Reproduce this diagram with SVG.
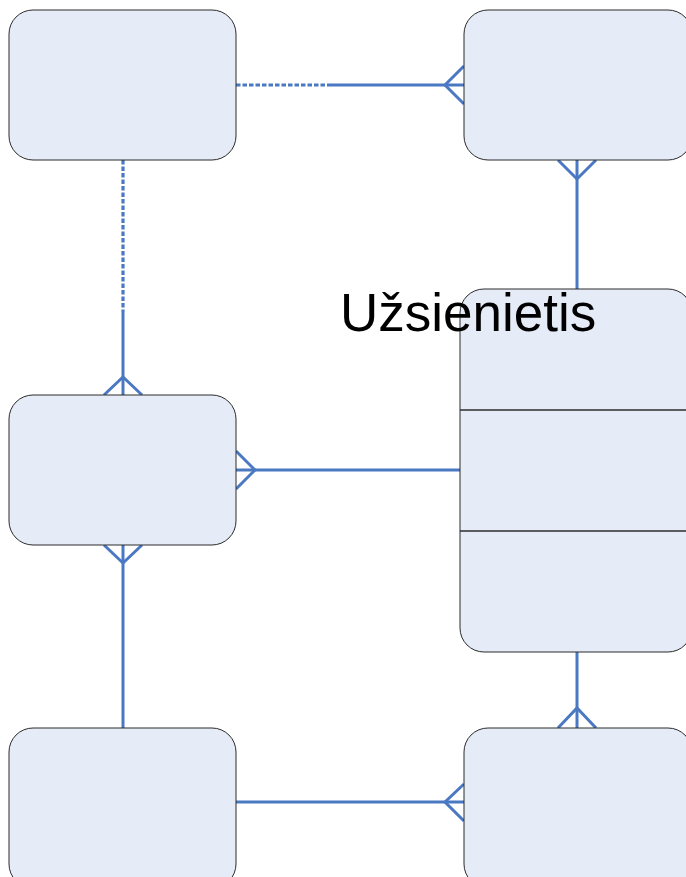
<svg xmlns="http://www.w3.org/2000/svg" width="686" height="877" viewBox="0 0 686 877">
  <style>
    .box { fill: #E6ECF7; stroke: #2b2b2b; stroke-width: 1; }
    .div { stroke: #2e2e2e; stroke-width: 1.3; fill: none; }
    .rel { stroke: #4A78C2; stroke-width: 3; fill: none; }
    .opt { stroke: #4A78C2; stroke-width: 3.2; fill: none; stroke-dasharray: 4.5 2; }
    .title { font-family: "Liberation Sans", Arial, sans-serif; font-size: 53px; fill: #000; }
  </style>
  <rect width="686" height="877" fill="#fff"/>

  <g id="connectors">
    <!-- top-left to top-right -->
    <line class="opt" x1="236" y1="85" x2="330" y2="85"/>
    <line class="rel" x1="330" y1="85" x2="464" y2="85"/>
    <polyline class="rel" points="464,66 445,85 464,104"/>
    <!-- top-left to middle-left -->
    <line class="opt" x1="123" y1="160" x2="123" y2="312"/>
    <line class="rel" x1="123" y1="312" x2="123" y2="395"/>
    <polyline class="rel" points="104,395 123,377 142,395"/>
    <!-- middle-left to Užsienietis -->
    <line class="rel" x1="236" y1="470" x2="460" y2="470"/>
    <polyline class="rel" points="236,451 255,470 236,489"/>
    <!-- top-right to Užsienietis -->
    <line class="rel" x1="577" y1="160" x2="577" y2="289"/>
    <polyline class="rel" points="558,160 577,179 596,160"/>
    <!-- middle-left to bottom-left -->
    <line class="rel" x1="123" y1="545" x2="123" y2="728"/>
    <polyline class="rel" points="104,545 123,563 142,545"/>
    <!-- bottom-left to bottom-right -->
    <line class="rel" x1="236" y1="802" x2="464" y2="802"/>
    <polyline class="rel" points="464,784 445,802 464,821"/>
    <!-- Užsienietis to bottom-right -->
    <line class="rel" x1="577" y1="652" x2="577" y2="728"/>
    <polyline class="rel" points="558,728 577,708 596,728"/>
  </g>

  <g id="node-top-left">
    <rect class="box" x="9" y="10" width="227" height="150" rx="24" ry="24"/>
  </g>
  <g id="node-top-right">
    <rect class="box" x="464" y="10" width="228" height="150" rx="24" ry="24"/>
  </g>
  <g id="node-middle-left">
    <rect class="box" x="9" y="395" width="227" height="150" rx="24" ry="24"/>
  </g>
  <g id="node-bottom-left">
    <rect class="box" x="9" y="728" width="227" height="160" rx="24" ry="24"/>
  </g>
  <g id="node-bottom-right">
    <rect class="box" x="464" y="728" width="228" height="160" rx="24" ry="24"/>
  </g>
  <g id="node-uzsienietis">
    <rect class="box" x="460" y="289" width="232" height="363" rx="24" ry="24"/>
    <line class="div" x1="460" y1="410" x2="692" y2="410"/>
    <line class="div" x1="460" y1="531" x2="692" y2="531"/>
    <text class="title" x="340" y="331">Užsienietis</text>
  </g>
</svg>
